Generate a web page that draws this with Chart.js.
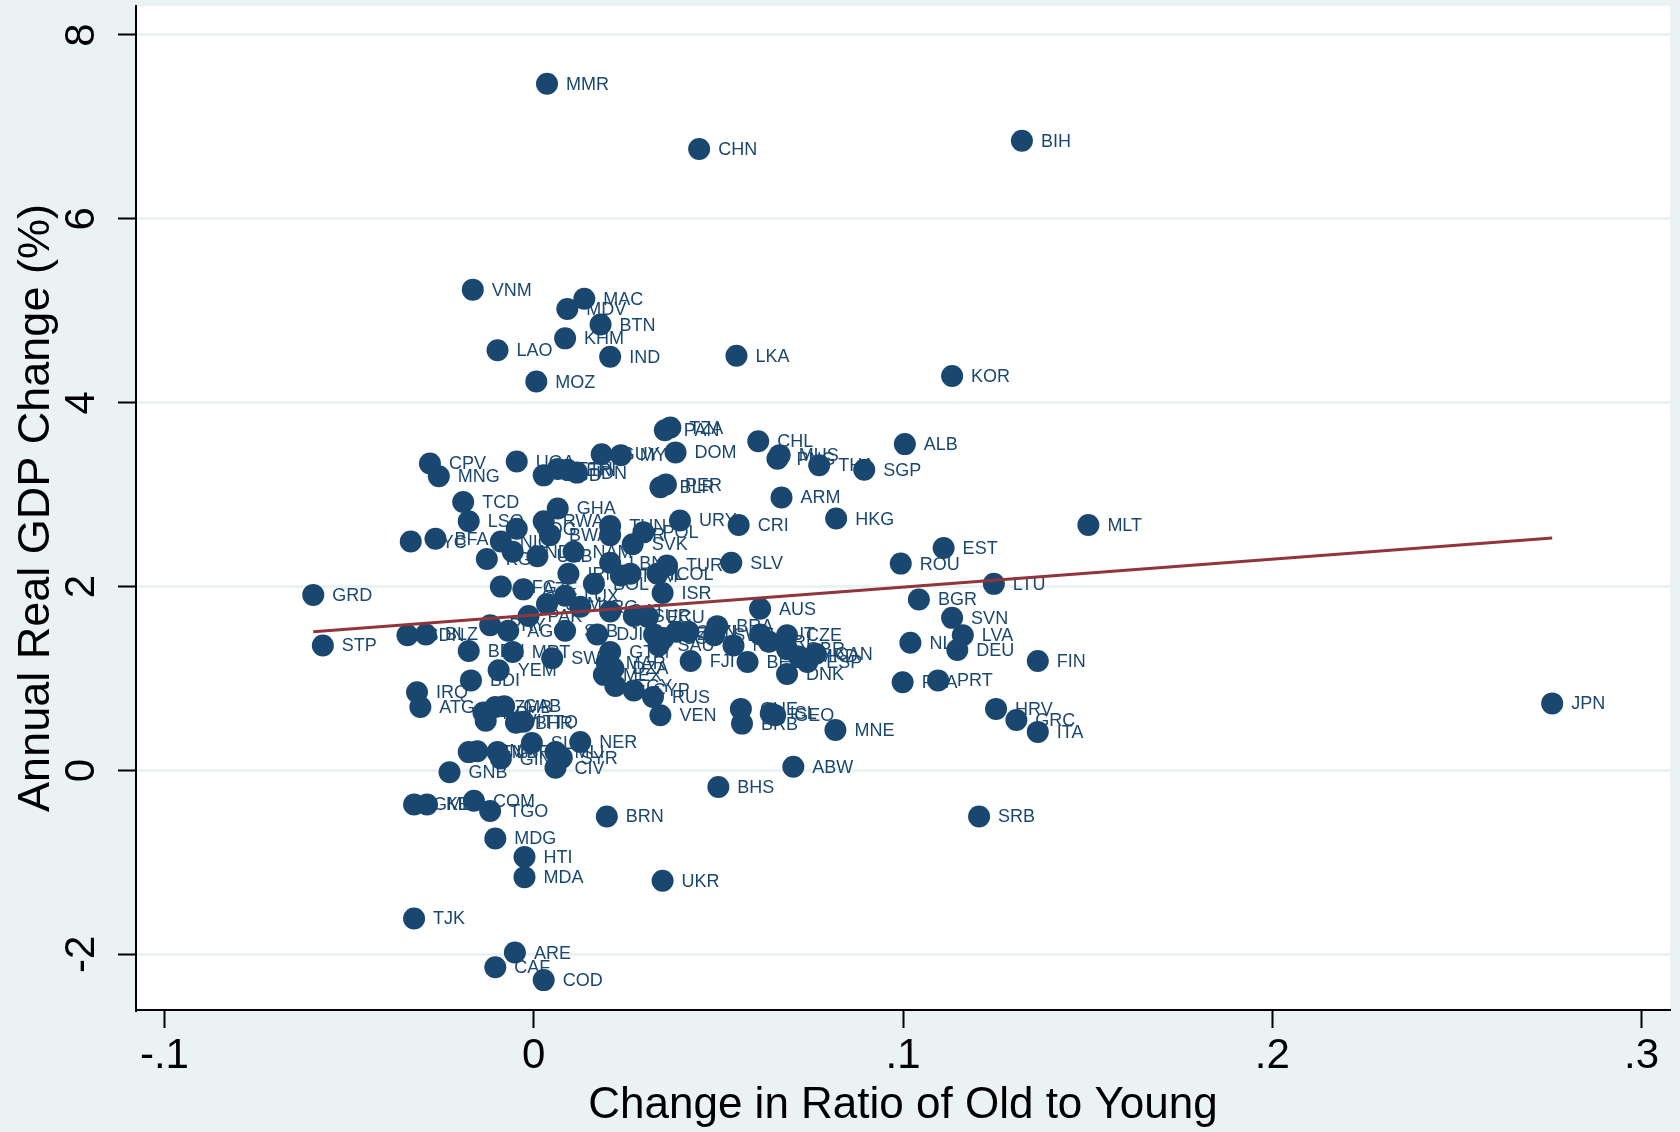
<!DOCTYPE html>
<html>
<head>
<meta charset="utf-8">
<title>GDP change vs change in old/young ratio</title>
<script src="https://cdn.jsdelivr.net/npm/chart.js@4.4.1/dist/chart.umd.min.js"></script>
<style>
  html, body { margin: 0; padding: 0; background: #eaf2f3; }
  canvas { display: block; }
</style>
</head>
<body>
<canvas id="chart" width="1680" height="1132"></canvas>
<script>
// values
const countries = [
  'MMR','CHN','BIH','VNM','MAC','MDV','BTN','KHM','LAO','IND','LKA','MOZ','KOR','TZA','PAN','DOM','CHL','PNG','MUS','THA',
  'SGP','ALB','CPV','MNG','UGA','BGD','ETH','ERI','IDN','GUY','MYS','PER','BLR','ARM','HKG','CRI','URY','MLT','EST','ROU',
  'SLV','LTU','BGR','SVN','LVA','NLD','DEU','FIN','FRA','PRT','HRV','GRC','ITA','JPN','SRB','MNE','ABW','BHS','CHE','BRB',
  'ISL','GEO','AUS','GRD','STP','TCD','LSO','SYC','BFA','TJK','ARE','CAF','COD','UKR','MDA','HTI','MDG','BRN','TGO','COM',
  'GMB','KEN','GNB','CIV','NER','SEN','CMR','LBR','GIN','SLE','MLI','SYR','IRQ','ATG','BDI','YEM','BEN','MRT','SWZ','SDN',
  'BLZ','PRY','AGO','PAK','SLB','DJI','GTM','MEX','DZA','MAR','EGY','CYP','RUS','VEN','NPL','ZMB','GAB','MWI','BHR','TTO',
  'KGZ','NIC','COG','HND','UZB','RWA','GHA','BWA','NAM','TUN','JOR','SVK','POL','LBN','PHL','COL','TUR','ISR','AFG','AZE',
  'IRN','LUX','BOL','JAM','ARG','QAT','SUR','ECU','TKM','KAZ','USA','SAU','OMN','NZL','FJI','SWE','BRA','NOR','BEL','AUT',
  'IRL','CZE','GBR','DNK','MKD','ESP','CAN'
];
const ratioChange = [
  .0036,.0448,.1322,-.0165,.0137,.0091,.0181,.0085,-.0098,.0207,.0549,.0007,.1133,.0370,.0355,.0384,.0608,.0660,.0666,.0773,
  .0895,.1005,-.0281,-.0257,-.0046,.0027,.0065,.0091,.0117,.0184,.0236,.0358,.0343,.0671,.0819,.0555,.0396,.1502,.1110,.0994,
  .0535,.1246,.1043,.1133,.1162,.1020,.1147,.1365,.0999,.1095,.1252,.1307,.1365,.2758,.1206,.0817,.0703,.0500,.0561,.0564,
  .0642,.0654,.0613,-.0597,-.0571,-.0191,-.0176,-.0333,-.0266,-.0324,-.0051,-.0104,.0027,.0349,-.0025,-.0025,-.0104,.0198,-.0118,-.0162,
  -.0324,-.0289,-.0228,.0059,.0126,-.0176,-.0153,-.0098,-.0089,-.0005,.0059,.0076,-.0316,-.0307,-.0170,-.0095,-.0176,-.0057,.0050,-.0342,
  -.0292,-.0118,-.0069,-.0014,.0085,.0172,.0207,.0190,.0216,.0198,.0221,.0271,.0323,.0343,-.0136,-.0104,-.0080,-.0130,-.0048,-.0028,
  -.0127,-.0089,-.0046,-.0057,.0010,.0027,.0065,.0044,.0108,.0207,.0207,.0268,.0297,.0207,.0262,.0335,.0361,.0349,-.0089,-.0028,
  .0094,.0085,.0163,.0036,.0126,.0207,.0271,.0309,.0236,.0326,.0352,.0338,.0387,.0419,.0425,.0489,.0497,.0541,.0579,.0613,
  .0637,.0686,.0686,.0686,.0718,.0741,.0764
];
const gdpChange = [
  7.47,6.76,6.85,5.23,5.13,5.02,4.85,4.70,4.57,4.50,4.51,4.23,4.29,3.73,3.70,3.46,3.58,3.39,3.43,3.32,
  3.27,3.55,3.34,3.20,3.36,3.21,3.28,3.27,3.24,3.44,3.43,3.11,3.08,2.97,2.74,2.67,2.72,2.67,2.42,2.25,
  2.26,2.03,1.86,1.66,1.47,1.39,1.31,1.19,0.96,0.98,0.67,0.55,0.42,0.73,-0.50,0.44,0.04,-0.18,0.67,0.51,
  0.62,0.60,1.76,1.91,1.36,2.92,2.71,2.49,2.52,-1.61,-1.98,-2.14,-2.28,-1.20,-1.16,-0.94,-0.74,-0.50,-0.44,-0.33,
  -0.37,-0.37,-0.02,0.03,0.31,0.20,0.21,0.20,0.13,0.30,0.20,0.14,0.85,0.69,0.98,1.09,1.30,1.29,1.22,1.47,
  1.48,1.58,1.52,1.68,1.52,1.48,1.29,1.04,1.11,1.17,0.92,0.87,0.80,0.60,0.63,0.69,0.70,0.54,0.52,0.53,
  2.30,2.49,2.63,2.38,2.33,2.71,2.85,2.56,2.38,2.66,2.56,2.46,2.59,2.26,2.14,2.14,2.23,1.93,2.00,1.97,
  2.14,1.90,2.03,1.81,1.78,1.73,1.68,1.67,2.12,1.48,1.44,1.36,1.51,1.51,1.19,1.47,1.57,1.36,1.18,1.48,
  1.40,1.47,1.32,1.05,1.24,1.18,1.27
];
// fitted line, ends
const fitX = [-0.0597, 0.2758];
const fitY = [1.51, 2.53];

const xTicks = [-0.1, 0, 0.1, 0.2, 0.3];
const xTickLabels = ['-.1', '0', '.1', '.2', '.3'];
const yTicks = [-2, 0, 2, 4, 6, 8];
const yTickLabels = ['-2', '0', '2', '4', '6', '8'];

const FONT = '"Liberation Sans", Arial, sans-serif';
const NAVY = '#1a476f';
const BG = '#eaf2f3';

const points = ratioChange.map((x, i) => ({ x: x, y: gdpChange[i], label: countries[i] }));
const fitLine = fitX.map((x, i) => ({ x: x, y: fitY[i] }));

function tickText(ticks, labels, v) {
  const i = ticks.findIndex(t => Math.abs(t - v) < 1e-9);
  return i < 0 ? '' : labels[i];
}

// stata style backdrop: grey outer area, white plot region
const backdrop = {
  id: 'backdrop',
  beforeDraw(chart) {
    const { ctx, chartArea: a } = chart;
    ctx.save();
    ctx.fillStyle = BG;
    ctx.fillRect(0, 0, chart.width, chart.height);
    ctx.fillStyle = '#ffffff';
    ctx.fillRect(a.left, a.top, a.right - a.left, a.bottom - a.top);
    ctx.restore();
  }
};

// country codes to the right of each marker
const pointLabels = {
  id: 'pointLabels',
  beforeDatasetsDraw(chart) {
    const meta = chart.getDatasetMeta(1);
    const ctx = chart.ctx;
    ctx.save();
    ctx.font = '18px ' + FONT;
    ctx.fillStyle = NAVY;
    ctx.textAlign = 'left';
    ctx.textBaseline = 'middle';
    meta.data.forEach((el, i) => {
      ctx.fillText(countries[i], el.x + 19, el.y + 1);
    });
    ctx.restore();
  }
};

new Chart(document.getElementById('chart'), {
  type: 'scatter',
  data: {
    datasets: [
      {
        label: 'Fitted values',
        data: fitLine,
        showLine: true,
        borderColor: '#90353b',
        borderWidth: 3,
        pointRadius: 0,
        fill: false
      },
      {
        label: 'Countries',
        data: points,
        pointRadius: 11,
        pointBackgroundColor: NAVY,
        pointBorderWidth: 0
      }
    ]
  },
  options: {
    responsive: false,
    animation: false,
    devicePixelRatio: 1,
    events: [],
    layout: { autoPadding: false, padding: { left: 0, top: 6, right: 10, bottom: 0 } },
    plugins: {
      legend: { display: false },
      tooltip: { enabled: false }
    },
    scales: {
      x: {
        type: 'linear',
        min: -0.1077,
        max: 0.3077,
        afterBuildTicks: s => { s.ticks = xTicks.map(v => ({ value: v })); },
        afterFit: s => { s.height = 122; s.paddingLeft = 0; s.paddingRight = 0; },
        ticks: {
          callback: v => tickText(xTicks, xTickLabels, v),
          font: { family: FONT, size: 42 },
          color: '#000',
          padding: 3,
          minRotation: 0,
          maxRotation: 0,
          autoSkip: false
        },
        grid: {
          drawOnChartArea: false,
          tickLength: 18,
          tickWidth: 2,
          tickColor: '#000'
        },
        border: { color: '#000', width: 2 },
        title: {
          display: true,
          text: 'Change in Ratio of Old to Young',
          font: { family: FONT, size: 44 },
          color: '#000',
          padding: 0
        }
      },
      y: {
        type: 'linear',
        min: -2.605,
        max: 8.315,
        afterBuildTicks: s => { s.ticks = yTicks.map(v => ({ value: v })); },
        afterFit: s => { s.width = 136; s.paddingTop = 0; s.paddingBottom = 0; },
        ticks: {
          callback: v => tickText(yTicks, yTickLabels, v),
          font: { family: FONT, size: 42 },
          color: '#000',
          padding: 17,
          minRotation: 90,
          maxRotation: 90,
          crossAlign: 'center',
          autoSkip: false
        },
        grid: {
          color: BG,
          lineWidth: 3,
          tickLength: 18,
          tickWidth: 2,
          tickColor: '#000'
        },
        border: { color: '#000', width: 2 },
        title: {
          display: true,
          text: 'Annual Real GDP Change (%)',
          font: { family: FONT, size: 45 },
          color: '#000',
          padding: { top: 10, bottom: 0 }
        }
      }
    }
  },
  plugins: [backdrop, pointLabels]
});
</script>
</body>
</html>
